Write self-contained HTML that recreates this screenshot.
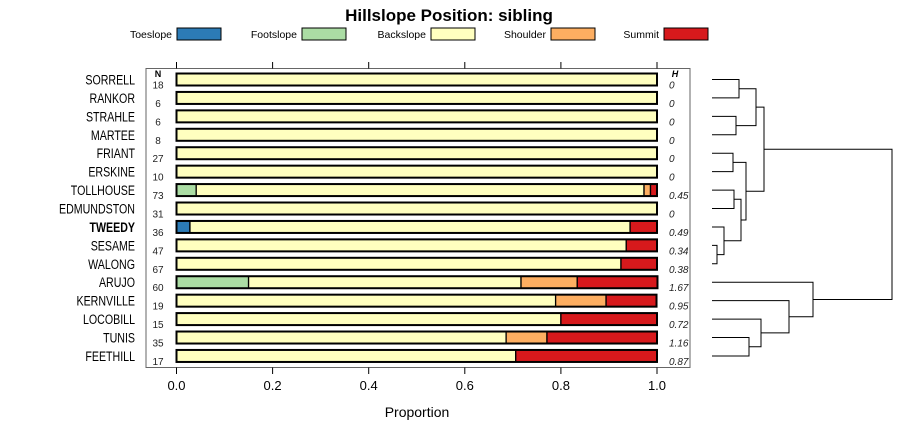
<!DOCTYPE html>
<html><head><meta charset="utf-8"><style>
body{margin:0;background:#fff;}
svg text{font-family:"Liberation Sans",sans-serif;}
</style></head><body>
<svg id="chart" width="900" height="440" viewBox="0 0 900 440">
<rect width="900" height="440" fill="#fff"/>
<text x="449" y="21" text-anchor="middle" font-size="17" font-weight="bold">Hillslope Position: sibling</text>
<g id="legend"></g>
<rect x="146" y="68.5" width="544" height="299" fill="none" stroke="#666" stroke-width="1"/>
<g id="bars"></g>
<g id="axis"></g>
<g id="dendro" stroke="#000" stroke-width="1" fill="none"></g>
<text x="417" y="417" text-anchor="middle" font-size="14">Proportion</text>
<text x="158" y="77" text-anchor="middle" font-size="9" font-weight="bold">N</text>
<text x="675" y="77" text-anchor="middle" font-size="9" font-weight="bold" font-style="italic">H</text>
</svg>
<script>
const categories = ["Toeslope","Footslope","Backslope","Shoulder","Summit"];
const colors = ["#2C7BB6","#ABDDA4","#FFFFBF","#FDAE61","#D7191C"];
const soils = ["SORRELL","RANKOR","STRAHLE","MARTEE","FRIANT","ERSKINE","TOLLHOUSE","EDMUNDSTON","TWEEDY","SESAME","WALONG","ARUJO","KERNVILLE","LOCOBILL","TUNIS","FEETHILL"];
const nValues = [18,6,6,8,27,10,73,31,36,47,67,60,19,15,35,17];
const hValues = ["0","0","0","0","0","0","0.45","0","0.49","0.34","0.38","1.67","0.95","0.72","1.16","0.87"];
const toeslope = [0,0,0,0,0,0,0,0,0.028,0,0,0,0,0,0,0];
const footslope = [0,0,0,0,0,0,0.041,0,0,0,0,0.15,0,0,0,0];
const backslope = [1,1,1,1,1,1,0.932,1,0.916,0.936,0.925,0.567,0.789,0.8,0.686,0.706];
const shoulder = [0,0,0,0,0,0,0.0135,0,0,0,0,0.117,0.105,0,0.085,0];
const summit = [0,0,0,0,0,0,0.0135,0,0.056,0.064,0.075,0.167,0.105,0.2,0.229,0.294];
const xTicks = [0,0.2,0.4,0.6,0.8,1.0];
const tickLabels = ["0.0","0.2","0.4","0.6","0.8","1.0"];
// dendrogram merges: [left, right, height]; leaves 0..15, new clusters 16+
const merges = [[0,1,0.27],[2,3,0.24],[16,17,0.44],[4,5,0.21],[6,7,0.22],[9,10,0.05],[8,21,0.12],[20,22,0.29],[19,23,0.34],[18,24,0.52],[14,15,0.37],[13,26,0.49],[12,27,0.77],[11,28,1.01],[25,29,1.8]];

const NS="http://www.w3.org/2000/svg";
function mk(tag,attrs,parent){const e=document.createElementNS(NS,tag);for(const k in attrs)e.setAttribute(k,attrs[k]);parent.appendChild(e);return e;}
const xScale=v=>176.5+v*480.5;
const yScale=i=>79.5+i*18.43;
const dScale=h=>712+h*100;

// legend
const lg=document.getElementById('legend');
const legRectX=[177,302,431,551,664];
categories.forEach((c,i)=>{
  const t=mk('text',{x:legRectX[i]-5,y:38,'text-anchor':'end','font-size':'10.5'},lg);
  t.textContent=c;
  
  
  const r=mk('rect',{x:legRectX[i],y:28,width:44,height:12,fill:colors[i],stroke:'#000','stroke-width':1},lg);
  
  
});

// bars
const bg=document.getElementById('bars');
const series=[toeslope,footslope,backslope,shoulder,summit];
soils.forEach((s,i)=>{
  const y=yScale(i);
  const lab=mk('text',{x:0,y:y+5,'text-anchor':'end','font-size':'14','font-weight':s==='TWEEDY'?'bold':'normal',transform:'translate(135,0) scale(0.76,1)'},bg);
  lab.textContent=s;
  
  
  const nt=mk('text',{x:158,y:y+9,'text-anchor':'middle','font-size':'10',fill:'#222'},bg);
  nt.textContent=nValues[i];
  
  
  const ht=mk('text',{x:669,y:y+9,'font-size':'10','font-style':'italic',fill:'#222'},bg);
  ht.textContent=hValues[i];
  
  
  let cum=0;
  series.forEach((ser,k)=>{
    const v=ser[i];
    if(v>0){
      const r=mk('rect',{x:xScale(cum),y:y-6,width:xScale(cum+v)-xScale(cum),height:12,fill:colors[k],stroke:'#000','stroke-width':1.3},bg);
      
      
    }
    cum+=v;
  });
  const o=mk('rect',{x:xScale(0),y:y-6,width:xScale(cum)-xScale(0),height:12,fill:'none',stroke:'#000','stroke-width':2},bg);
  
  
});

// axis
const ax=document.getElementById('axis');
xTicks.forEach((t,i)=>{
  const x=xScale(t);
  const l1=mk('line',{x1:x,x2:x,y1:367.5,y2:374,stroke:'#000'},ax);
  
  
  const l2=mk('line',{x1:x,x2:x,y1:62,y2:68.5,stroke:'#000'},ax);
  
  
  const tx=mk('text',{x:x,y:390,'text-anchor':'middle','font-size':'13'},ax);
  tx.textContent=tickLabels[i];
  
  
});

// dendrogram
const dg=document.getElementById('dendro');
const nodeY=soils.map((s,i)=>yScale(i));
const nodeH=soils.map(()=>0);
merges.forEach(([a,b,h])=>{
  const xa=dScale(nodeH[a]),xb=dScale(nodeH[b]),xm=dScale(h);
  const p=mk('path',{d:`M${xa},${nodeY[a]}H${xm}V${nodeY[b]}H${xb}`},dg);
  
  
  nodeY.push((nodeY[a]+nodeY[b])/2);
  nodeH.push(h);
});
</script>
</body></html>
